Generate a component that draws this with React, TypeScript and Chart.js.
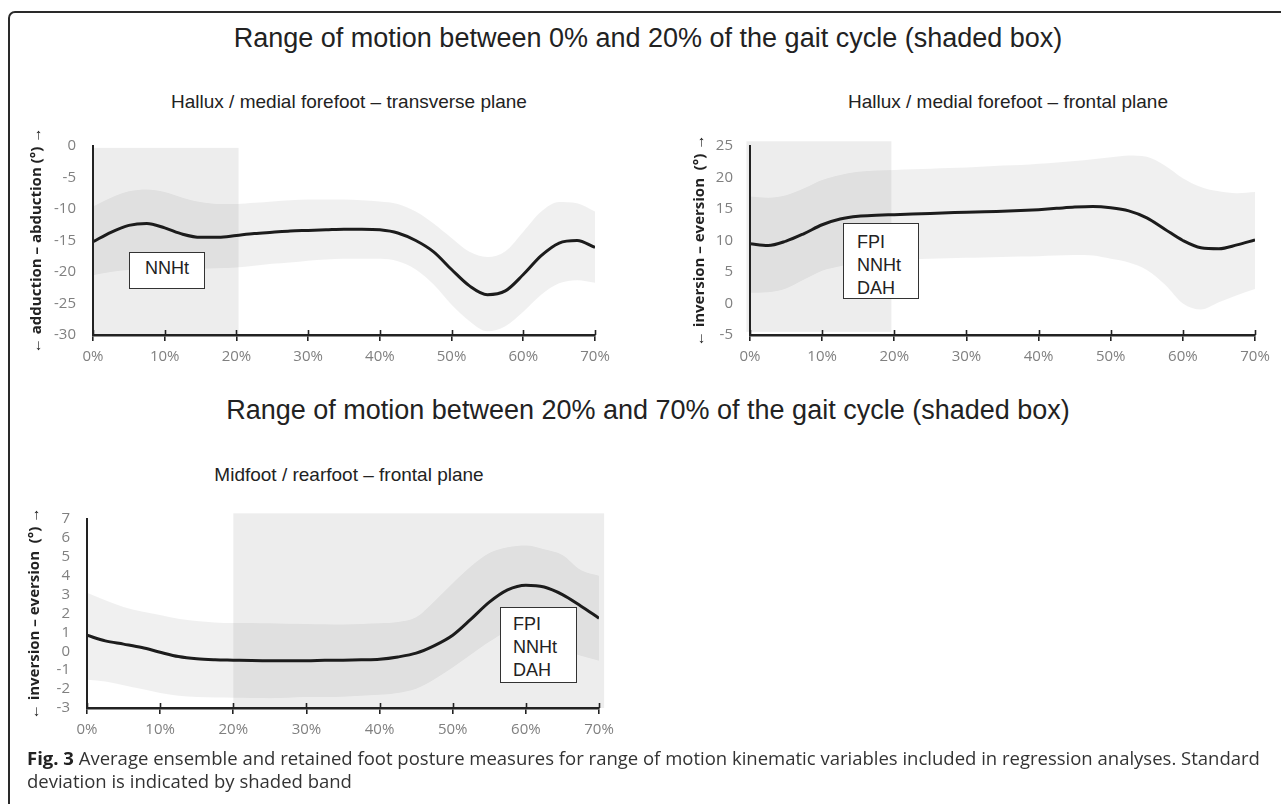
import React, { useEffect, useRef } from "react";
import { Chart, registerables } from "chart.js";

Chart.register(...registerables);

// ---------- DATA ----------
const gaitPct = [0, 2.5, 5, 7.5, 10, 12.5, 15, 17.5, 20, 22.5, 25, 27.5, 30, 32.5, 35, 37.5, 40, 42.5, 45, 47.5, 50, 52.5, 55, 57.5, 60, 62.5, 65, 67.5, 70];

// Hallux / medial forefoot – transverse plane
const transMean = [-15.2, -13.7, -12.6, -12.3, -13.0, -14.0, -14.5, -14.5, -14.2, -13.9, -13.7, -13.5, -13.4, -13.3, -13.2, -13.2, -13.3, -13.8, -15.0, -16.8, -19.6, -22.2, -23.6, -23.0, -20.4, -17.4, -15.4, -15.0, -16.1];
const transUpper = [-9.6, -8.2, -7.2, -6.9, -7.3, -8.2, -8.9, -9.2, -9.2, -9.0, -8.8, -8.6, -8.5, -8.5, -8.5, -8.6, -8.8, -9.2, -10.4, -12.3, -14.6, -16.8, -17.6, -16.7, -13.6, -10.4, -8.9, -9.1, -10.4];
const transLower = [-20.5, -20.0, -19.7, -19.5, -19.6, -19.6, -19.5, -19.4, -19.3, -19.0, -18.7, -18.5, -18.2, -18.0, -17.9, -17.9, -17.9, -18.3, -19.6, -22.0, -25.2, -27.8, -29.4, -28.6, -26.3, -23.6, -21.8, -21.3, -21.7];

// Hallux / medial forefoot – frontal plane
const frontMean = [9.5, 9.2, 9.9, 11.1, 12.5, 13.4, 13.85, 14.0, 14.1, 14.2, 14.3, 14.4, 14.5, 14.55, 14.65, 14.75, 14.9, 15.1, 15.3, 15.4, 15.2, 14.7, 13.6, 11.8, 10.0, 8.85, 8.7, 9.3, 10.1];
const frontUpper = [17.0, 16.8, 17.2, 18.3, 19.6, 20.4, 20.9, 21.1, 21.2, 21.3, 21.4, 21.5, 21.6, 21.75, 21.9, 22.0, 22.2, 22.4, 22.6, 22.9, 23.2, 23.5, 23.3, 21.9, 19.9, 18.5, 17.8, 17.5, 17.7];
const frontLower = [1.7, 1.8, 2.4, 3.8, 5.2, 5.9, 6.6, 6.9, 7.0, 7.05, 7.1, 7.2, 7.25, 7.3, 7.4, 7.45, 7.5, 7.6, 7.7, 7.6, 7.1, 6.5, 5.3, 3.0, 0.0, -0.95, 0.2, 1.3, 2.3];

// Midfoot / rearfoot – frontal plane
const midMean = [0.85, 0.55, 0.38, 0.2, -0.05, -0.28, -0.4, -0.45, -0.47, -0.49, -0.5, -0.5, -0.5, -0.48, -0.47, -0.45, -0.42, -0.3, -0.1, 0.3, 0.85, 1.7, 2.6, 3.25, 3.5, 3.4, 3.0, 2.4, 1.75];
const midUpper = [3.1, 2.7, 2.35, 2.1, 1.92, 1.72, 1.6, 1.53, 1.5, 1.5, 1.48, 1.46, 1.45, 1.43, 1.42, 1.45, 1.48, 1.55, 1.8, 2.65, 3.6, 4.5, 5.2, 5.5, 5.6, 5.4, 5.1, 4.3, 4.0];
const midLower = [-1.5, -1.6, -1.8, -2.0, -2.2, -2.35, -2.42, -2.45, -2.46, -2.47, -2.48, -2.46, -2.42, -2.42, -2.4, -2.35, -2.3, -2.2, -1.98, -1.48, -0.86, -0.17, 0.5, 1.05, 1.17, 0.72, 0.08, -0.23, -0.5];

// shaded analysis windows: [gait% start, gait% end, value top, value bottom]
const transWindow = [0.1, 20.3, -0.3, -30];
const frontWindow = [-0.5, 19.6, 25.75, -4.5];
const midWindow = [20, 70.7, 7.3, -3];

const xTickValues = [0, 10, 20, 30, 40, 50, 60, 70];

const mainTitles = [
  "Range of motion between 0% and 20% of the gait cycle (shaded box)",
  "Range of motion between 20% and 70% of the gait cycle (shaded box)",
];
const panelTitles = [
  "Hallux / medial forefoot \u2013 transverse plane",
  "Hallux / medial forefoot \u2013 frontal plane",
  "Midfoot / rearfoot \u2013 frontal plane",
];
const yTitles = [
  "\u2190 adduction \u2013 abduction (\u00b0) \u2192",
  "\u2190 inversion \u2013 eversion  (\u00b0) \u2192",
  "\u2190 inversion \u2013 eversion  (\u00b0) \u2192",
];
const retained1 = ["NNHt"];
const retained2 = ["FPI", "NNHt", "DAH"];
const retained3 = ["FPI", "NNHt", "DAH"];

// ---------- CHART ----------
type PanelProps = {
  left: number;
  top: number;
  width: number;
  height: number;
  mean: number[];
  upper: number[];
  lower: number[];
  yMin: number;
  yMax: number;
  yStep: number;
  yTitle: string;
  box: number[];
  yWidth: number;
  titlePad: number;
};

const TICK_FONT = { family: "'Open Sans', sans-serif", size: 15 };
const TICK_COLOR = "#808080";
const AXIS_COLOR = "#222222";

function makePoints(arr: number[]) {
  return gaitPct.map((x, i) => ({ x, y: arr[i] }));
}

function windowPlugin(box: number[]) {
  return {
    id: "analysisWindow",
    beforeDatasetsDraw(chart: any) {
      const { ctx, scales } = chart;
      const xs = scales.x;
      const ys = scales.y;
      const x0 = xs.getPixelForValue(box[0]);
      const x1 = xs.getPixelForValue(box[1]);
      const y0 = ys.getPixelForValue(box[2]);
      const y1 = ys.getPixelForValue(box[3]);
      ctx.save();
      ctx.fillStyle = "rgba(0,0,0,0.072)";
      ctx.fillRect(x0, y0, x1 - x0, y1 - y0);
      ctx.restore();
    },
  };
}

const crossTicks = {
  id: "crossTicks",
  afterDraw(chart: any) {
    const { ctx, scales, chartArea } = chart;
    const xs = scales.x;
    ctx.save();
    ctx.strokeStyle = AXIS_COLOR;
    ctx.lineWidth = 1.6;
    xs.ticks.forEach((t: any) => {
      const px = Math.round(xs.getPixelForValue(t.value)) + 0.5;
      ctx.beginPath();
      ctx.moveTo(px, chartArea.bottom - 5);
      ctx.lineTo(px, chartArea.bottom);
      ctx.stroke();
    });
    ctx.restore();
  },
};

function buildConfig(p: PanelProps): any {
  return {
    type: "line",
    data: {
      datasets: [
        {
          label: "mean",
          data: makePoints(p.mean),
          borderColor: "#1c1c1c",
          borderWidth: 3,
          pointRadius: 0,
          cubicInterpolationMode: "monotone",
          fill: false,
        },
        {
          label: "+SD",
          data: makePoints(p.upper),
          borderColor: "rgba(0,0,0,0)",
          borderWidth: 0,
          pointRadius: 0,
          cubicInterpolationMode: "monotone",
          backgroundColor: "rgba(0,0,0,0.057)",
          fill: "+1",
        },
        {
          label: "-SD",
          data: makePoints(p.lower),
          borderColor: "rgba(0,0,0,0)",
          borderWidth: 0,
          pointRadius: 0,
          cubicInterpolationMode: "monotone",
          fill: false,
        },
      ],
    },
    options: {
      animation: false,
      responsive: false,
      maintainAspectRatio: false,
      layout: { padding: { top: 15, right: 25, bottom: 0, left: 0 } },
      plugins: {
        legend: { display: false },
        tooltip: { enabled: false },
      },
      scales: {
        x: {
          type: "linear",
          min: 0,
          max: 70,
          afterBuildTicks: (s: any) => {
            s.ticks = xTickValues.map((v) => ({ value: v }));
          },
          ticks: {
            callback: (v: any) => v + "%",
            font: TICK_FONT,
            color: TICK_COLOR,
            padding: 7,
            maxRotation: 0,
            autoSkip: false,
          },
          grid: {
            drawOnChartArea: false,
            drawTicks: true,
            tickLength: 6,
            color: AXIS_COLOR,
            lineWidth: 1.6,
            z: 1,
          },
          border: { color: AXIS_COLOR, width: 2.5, z: 1 },
          afterFit: (s: any) => {
            s.height = 40;
          },
        },
        y: {
          min: p.yMin,
          max: p.yMax,
          ticks: {
            stepSize: p.yStep,
            font: TICK_FONT,
            color: TICK_COLOR,
            padding: 17,
            autoSkip: false,
          },
          grid: { display: false, drawTicks: false },
          border: { color: AXIS_COLOR, width: 2, z: 1 },
          title: {
            display: true,
            text: p.yTitle,
            color: AXIS_COLOR,
            font: { family: "'Open Sans', sans-serif", size: 15, weight: "bold" },
            padding: { top: p.titlePad, bottom: 0 },
          },
          afterFit: (s: any) => {
            s.width = p.yWidth;
          },
        },
      },
    },
    plugins: [windowPlugin(p.box), crossTicks],
  };
}

function Panel(p: PanelProps) {
  const ref = useRef<HTMLCanvasElement>(null);
  useEffect(() => {
    const chart = new Chart(ref.current as HTMLCanvasElement, buildConfig(p));
    return () => chart.destroy();
  }, []);
  return (
    <canvas
      ref={ref}
      width={p.width}
      height={p.height}
      style={{ position: "absolute", left: p.left, top: p.top, width: p.width, height: p.height }}
    />
  );
}

// ---------- LAYOUT ----------
const SANS = "'Liberation Sans', Arial, sans-serif";

function MainTitle({ text, top }: { text: string; top: number }) {
  return (
    <div
      style={{
        position: "absolute",
        left: 0,
        width: 1296,
        top,
        textAlign: "center",
        fontFamily: SANS,
        fontSize: 27,
        lineHeight: "31px",
        color: "#222",
        whiteSpace: "nowrap",
      }}
    >
      {text}
    </div>
  );
}

function SubTitle({ text, center, top }: { text: string; center: number; top: number }) {
  return (
    <div
      style={{
        position: "absolute",
        left: center - 300,
        width: 600,
        top,
        textAlign: "center",
        fontFamily: SANS,
        fontSize: 19,
        lineHeight: "22px",
        color: "#222",
        whiteSpace: "nowrap",
      }}
    >
      {text}
    </div>
  );
}

function Retained({
  lines,
  left,
  top,
  width,
  height,
  padLeft,
  padTop,
  center,
}: {
  lines: string[];
  left: number;
  top: number;
  width: number;
  height: number;
  padLeft: number;
  padTop: number;
  center?: boolean;
}) {
  return (
    <div
      style={{
        position: "absolute",
        left,
        top,
        width,
        height,
        boxSizing: "border-box",
        border: "1.5px solid #333",
        background: "#fff",
        paddingLeft: padLeft,
        paddingTop: padTop,
        fontFamily: SANS,
        fontSize: 18,
        lineHeight: "23px",
        color: "#222",
        textAlign: center ? "center" : "left",
      }}
    >
      {lines.map((l) => (
        <div key={l}>{l}</div>
      ))}
    </div>
  );
}

export default function App() {
  return (
    <div
      style={{
        position: "fixed",
        left: 0,
        top: 0,
        width: 1281,
        height: 804,
        overflow: "hidden",
        background: "#fff",
      }}
    >
      <div
        style={{
          position: "absolute",
          left: 8,
          top: 11,
          width: 1400,
          height: 900,
          boxSizing: "border-box",
          border: "2px solid #2a2a2a",
          borderRadius: 7,
        }}
      />
      <MainTitle text={mainTitles[0]} top={23} />
      <SubTitle text={panelTitles[0]} center={349} top={91} />
      <SubTitle text={panelTitles[1]} center={1008} top={91} />

      <Panel
        left={20}
        top={120}
        width={600}
        height={255}
        mean={transMean}
        upper={transUpper}
        lower={transLower}
        yMin={-30}
        yMax={0}
        yStep={5}
        yTitle={yTitles[0]}
        box={transWindow}
        yWidth={73}
        titlePad={8}
      />
      <Panel
        left={670}
        top={120}
        width={610}
        height={255}
        mean={frontMean}
        upper={frontUpper}
        lower={frontLower}
        yMin={-5}
        yMax={25}
        yStep={5}
        yTitle={yTitles[1]}
        box={frontWindow}
        yWidth={80}
        titlePad={21}
      />

      <MainTitle text={mainTitles[1]} top={395} />
      <SubTitle text={panelTitles[2]} center={349} top={464} />

      <Panel
        left={15}
        top={493}
        width={609}
        height={255}
        mean={midMean}
        upper={midUpper}
        lower={midLower}
        yMin={-3}
        yMax={7}
        yStep={1}
        yTitle={yTitles[2]}
        box={midWindow}
        yWidth={72}
        titlePad={11}
      />

      <Retained lines={retained1} left={129} top={252} width={76} height={37} padLeft={0} padTop={4} center />
      <Retained lines={retained2} left={843} top={223} width={76} height={76} padLeft={13} padTop={7} />
      <Retained lines={retained3} left={500} top={607} width={77} height={76} padLeft={12} padTop={5} />

      <div
        style={{
          position: "absolute",
          left: 27,
          top: 746,
          fontFamily: "'Open Sans', sans-serif",
          fontSize: 18.5,
          lineHeight: "23px",
          color: "#333",
          whiteSpace: "nowrap",
        }}
      >
        <b style={{ color: "#222" }}>Fig. 3</b> Average ensemble and retained foot posture measures for range of motion
        kinematic variables included in regression analyses. Standard
        <br />
        deviation is indicated by shaded band
      </div>
    </div>
  );
}
